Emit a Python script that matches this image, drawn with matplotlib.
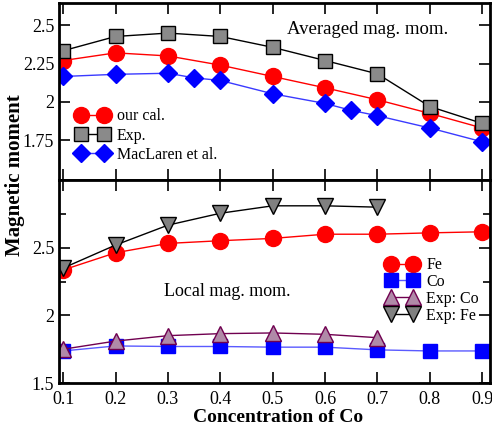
import matplotlib
matplotlib.use("Agg")
import matplotlib.pyplot as plt
from matplotlib.ticker import MultipleLocator

plt.rcParams['font.family'] = ['Liberation Serif', 'DejaVu Serif']

# Averaged magnetic moment
x_avg = [0.1, 0.2, 0.3, 0.4, 0.5, 0.6, 0.7, 0.8, 0.9]
our_cal = [2.27, 2.32, 2.30, 2.24, 2.166, 2.092, 2.014, 1.925, 1.83]
exp_avg = [2.334, 2.427, 2.449, 2.427, 2.356, 2.27, 2.183, 1.97, 1.86]
x_mac = [0.1, 0.2, 0.3, 0.35, 0.4, 0.5, 0.6, 0.65, 0.7, 0.8, 0.9]
maclaren = [2.166, 2.18, 2.187, 2.157, 2.14, 2.053, 1.99, 1.945, 1.91, 1.83, 1.74]

# Local magnetic moments
x_loc = [0.1, 0.2, 0.3, 0.4, 0.5, 0.6, 0.7, 0.8, 0.9]
fe_loc = [2.336, 2.463, 2.532, 2.552, 2.569, 2.60, 2.60, 2.61, 2.618]
co_loc = [1.737, 1.774, 1.77, 1.77, 1.765, 1.765, 1.745, 1.737, 1.737]
x_exp_loc = [0.1, 0.2, 0.3, 0.4, 0.5, 0.6, 0.7]
exp_co = [1.75, 1.81, 1.85, 1.865, 1.87, 1.86, 1.835]
exp_fe = [2.35, 2.52, 2.667, 2.755, 2.81, 2.81, 2.80]

x_ticks = [0.1, 0.2, 0.3, 0.4, 0.5, 0.6, 0.7, 0.8, 0.9]
x_ticklabels = ['0.1', '0.2', '0.3', '0.4', '0.5', '0.6', '0.7', '0.8', '0.9']
top_yticks = [1.75, 2.0, 2.25, 2.5]
top_yticklabels = ['1.75', '2', '2.25', '2.5']
bot_yticks = [1.5, 2.0, 2.5]
bot_yticklabels = ['1.5', '2', '2.5']

fig = plt.figure(figsize=(4.92, 4.34), dpi=100)
ax1 = fig.add_axes([0.12, 0.585, 0.876, 0.408])
ax2 = fig.add_axes([0.12, 0.1175, 0.876, 0.4675])

ms = 11.5
ax1.plot(x_avg, our_cal, '-o', color='red', lw=1, ms=ms, mfc='red', mec='red',
         label='our cal.')
ax1.plot(x_avg, exp_avg, '-s', color='black', lw=1, ms=ms - 1, mfc='#8a8a8a',
         mec='black', mew=1, label='Exp.')
ax1.plot(x_mac, maclaren, '-D', color='#3a3aff', lw=1, ms=ms - 2, mfc='#0000ff',
         mec='#0000ff', label='MacLaren et al.')

ax2.plot(x_loc, fe_loc, '-o', color='red', lw=1, ms=ms, mfc='red', mec='red',
         label='Fe')
ax2.plot(x_loc, co_loc, '-s', color='#5a5aff', lw=1, ms=ms - 1, mfc='#0000ff',
         mec='#0000ff', label='Co')
ax2.plot(x_exp_loc, exp_co, '-^', color='#700050', lw=1, ms=ms, mfc='#b08aa8',
         mec='#700050', mew=1, label='Exp: Co')
ax2.plot(x_exp_loc, exp_fe, '-v', color='black', lw=1, ms=ms, mfc='#808080',
         mec='black', mew=1, label='Exp: Fe')

for ax in (ax1, ax2):
    ax.set_xlim(0.092, 0.915)
    ax.set_xticks(x_ticks)
    for s in ax.spines.values():
        s.set_linewidth(2)
    ax.tick_params(which='major', direction='in', length=8, width=1.2,
                   top=True, right=True, labelsize=13)
    ax.tick_params(which='minor', direction='in', length=5, width=1.2,
                   top=True, right=True)

ax1.set_ylim(1.49, 2.645)
ax1.set_yticks(top_yticks)
ax1.set_yticklabels(top_yticklabels)
ax1.tick_params(labelbottom=False)

ax2.set_ylim(1.5, 3.0)
ax2.set_yticks(bot_yticks)
ax2.set_yticklabels(bot_yticklabels)
ax2.yaxis.set_minor_locator(MultipleLocator(0.25))
ax2.set_xticklabels(x_ticklabels)
ax2.tick_params(axis='x', pad=6)

ax1.text(0.715, 0.85, 'Averaged mag. mom.', transform=ax1.transAxes,
         ha='center', va='center', fontsize=13.5)
ax2.text(0.39, 0.45, 'Local mag. mom.', transform=ax2.transAxes,
         ha='center', va='center', fontsize=13)

ax1.legend(loc='lower left', bbox_to_anchor=(0.015, 0.035), numpoints=2,
           frameon=False, fontsize=11.5, handlelength=2.0, handletextpad=0.5,
           labelspacing=0.2, borderaxespad=0.3)
ax2.legend(loc='center right', bbox_to_anchor=(1.0, 0.456), numpoints=2,
           frameon=False, fontsize=11.5, handlelength=2.0, handletextpad=0.5,
           labelspacing=0.05, borderaxespad=0.3)

fig.text(0.031, 0.597, 'Magnetic moment', rotation=90, ha='center', va='center',
         fontsize=15, fontweight='bold')
fig.text(0.565, 0.037, 'Concentration of Co', ha='center', va='center',
         fontsize=14, fontweight='bold')

fig.savefig('out.png', dpi=100)
